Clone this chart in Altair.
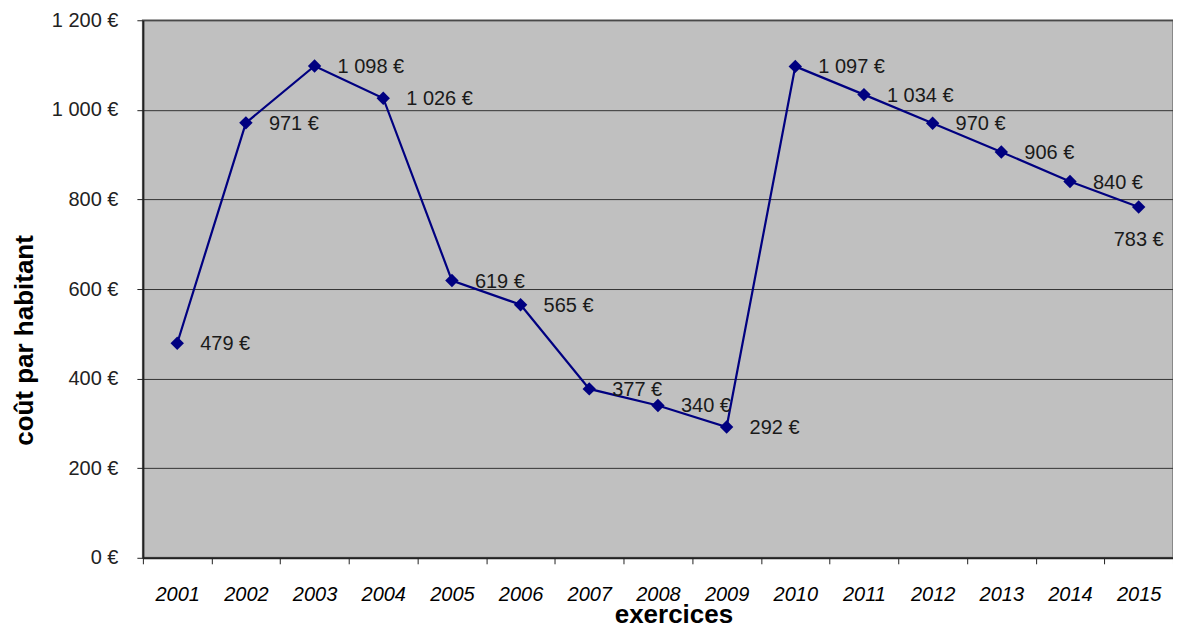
import altair as alt
import pandas as pd

years = ["2001", "2002", "2003", "2004", "2005", "2006", "2007", "2008",
         "2009", "2010", "2011", "2012", "2013", "2014", "2015"]
costs = [479, 971, 1098, 1026, 619, 565, 377, 340, 292, 1097, 1034, 970, 906, 840, 783]
y_ticks = [0, 200, 400, 600, 800, 1000, 1200]
below_label_year = "2015"

df = pd.DataFrame({"annee": years, "cout": costs})

FONT = "Liberation Sans"
NAVY = "#000080"
euro = "replace(format(datum.cout, ',d'), ',', ' ') + ' €'"

x = alt.X(
    "annee:N",
    bandPosition=0.5,
    sort=years,
    scale=alt.Scale(type="band", paddingInner=0, paddingOuter=0),
    axis=alt.Axis(
        title="exercices",
        tickBand="extent",
        grid=False,
        labelAngle=0,
        labelFont=FONT,
        labelFontSize=20,
        labelFontStyle="italic",
        labelColor="#000000",
        labelBaseline="alphabetic",
        labelPadding=37,
        tickSize=6,
        tickColor="#222222",
        domainColor="#222222",
        domainWidth=2,
        titleFont=FONT,
        titleFontSize=26,
        titleFontWeight="bold",
        titleColor="#000000",
        titleX=531,
        titleY=65,
        titleAlign="center",
        titleBaseline="alphabetic",
    ),
)

y = alt.Y(
    "cout:Q",
    scale=alt.Scale(domain=[0, 1200], nice=False),
    axis=alt.Axis(
        title="coût par habitant",
        values=y_ticks,
        labelExpr="replace(format(datum.value, ',d'), ',', ' ') + ' €'",
        labelFont=FONT,
        labelFontSize=20,
        labelColor="#222222",
        labelPadding=19,
        tickSize=6,
        tickColor="#222222",
        domainColor="#222222",
        domainWidth=2,
        grid=True,
        gridColor="#333333",
        gridWidth=1,
        titleFont=FONT,
        titleFontSize=26,
        titleFontWeight="bold",
        titleColor="#000000",
        titleAngle=270,
        titleX=-110,
        titleY=320,
        titleAlign="center",
        titleBaseline="alphabetic",
    ),
)

base = alt.Chart(df).encode(x=x, y=y)

line = base.mark_line(color=NAVY, strokeWidth=2.2)
points = base.mark_point(shape="diamond", filled=True, size=180, color=NAVY, opacity=1)

labels = base.transform_filter(
    f"datum.annee != '{below_label_year}'"
).transform_calculate(lab=euro).mark_text(
    align="left", baseline="middle", dx=23, dy=1,
    font=FONT, fontSize=20, color="#1a1a1a"
).encode(text="lab:N")

label_below = base.transform_filter(
    f"datum.annee == '{below_label_year}'"
).transform_calculate(lab=euro).mark_text(
    align="center", baseline="middle", dx=0, dy=33,
    font=FONT, fontSize=20, color="#1a1a1a"
).encode(text="lab:N")

chart = alt.layer(line, points, labels, label_below).properties(
    width=1031,
    height=538,
    autosize=alt.AutoSizeParams(type="none"),
    padding={"left": 135, "top": 12, "right": 0, "bottom": 68},
    background="#ffffff",
).configure_view(
    fill="#C0C0C0",
    stroke="#888888",
    strokeWidth=2,
)

chart.save("out.html", embed_options={"renderer": "svg", "actions": False})
